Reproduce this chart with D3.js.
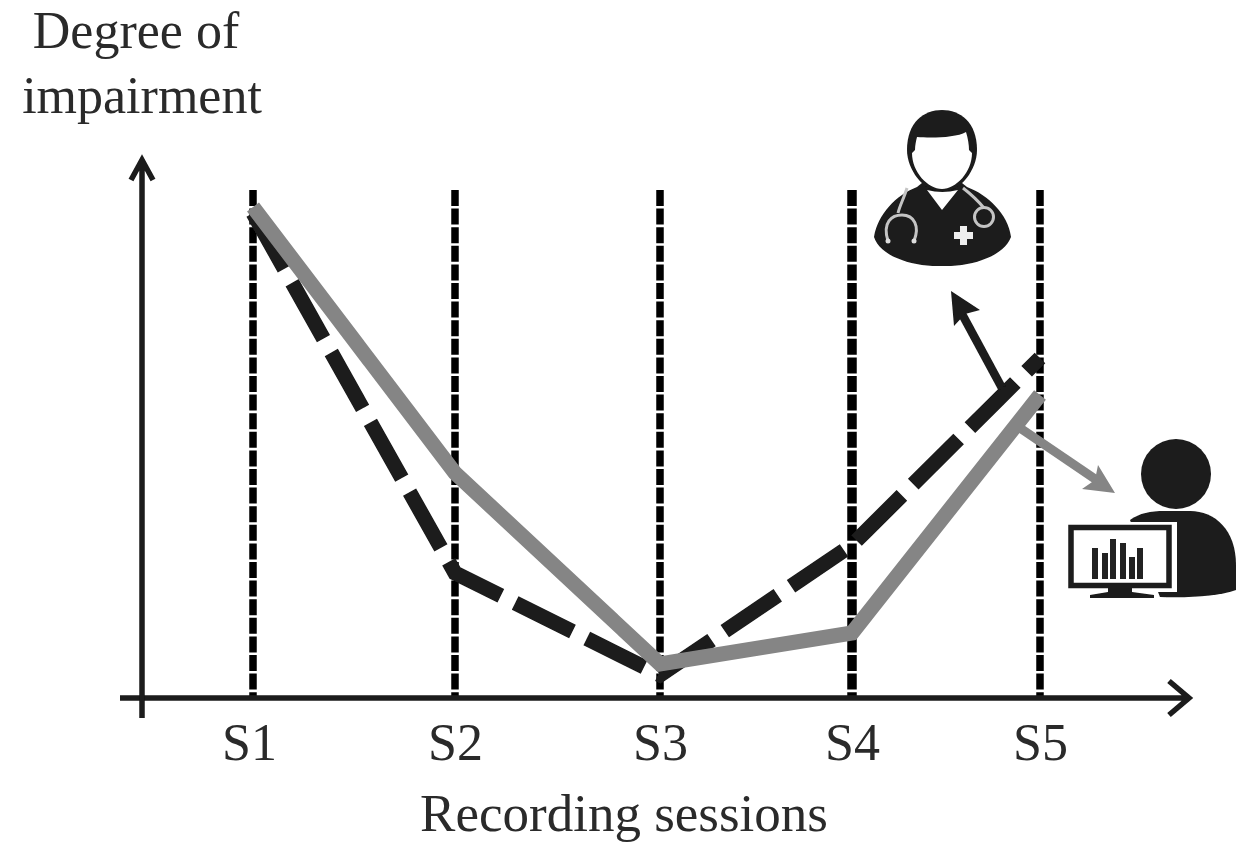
<!DOCTYPE html>
<html><head><meta charset="utf-8">
<script src="https://cdn.jsdelivr.net/npm/d3@7"></script>
<style>html,body{margin:0;background:#fff}svg{display:block}text{font-family:"Liberation Serif",serif;fill:#2a2a2a}</style>
</head><body><div id="c"></div>
<script>
const sessions=["S1","S2","S3","S4","S5"];
const clinician=[97,25,4.6,30.6,68];
const automatic=[98.2,45,6.8,13,60.6];
const yTitle=["Degree of","impairment"];
const xTitle="Recording sessions";
const W=1245,H=845;
const svg=d3.select("#c").append("svg").attr("width",W).attr("height",H);
const defs=svg.append("defs");
defs.append("filter").attr("id","soft").append("feGaussianBlur").attr("stdDeviation",0.7);
const g=svg.append("g").attr("filter","url(#soft)");
const px=d3.scaleOrdinal().domain(sessions).range([253,455,660,852,1040]);
const y=d3.scaleLinear().domain([0,100]).range([698,198]);
const dark="#1a1a1a",grey="#858585";
// guides
g.selectAll(".guide").data(sessions).join("line").attr("class","guide")
 .attr("x1",px).attr("x2",px).attr("y1",190).attr("y2",y(0))
 .attr("stroke","#000").attr("stroke-width",d=>d==="S4"?9.5:7.5).attr("stroke-dasharray","16 2.6");
// axes
const xa=d3.axisBottom(px).tickSize(0).tickPadding(25);
const xg=g.append("g").attr("transform",`translate(0,${y(0)})`).call(xa);
xg.select(".domain").remove();
xg.selectAll("text").attr("font-size",52).attr("font-family","Liberation Serif").attr("fill","#111").attr("dy","0.71em")
  .attr("dx",(d,i)=>[-4,0,0,0,0][i]);
const ax=g.append("g").attr("fill","none").attr("stroke",dark).attr("stroke-width",5.5);
ax.append("path").attr("d",`M120,${y(0)}H1188M1169,${y(0)-17}L1189,${y(0)}L1169,${y(0)+17}`);
ax.append("path").attr("d",`M142,718V160M131,180L142,160L153,180`);
// series
const line=d3.line().x((d,i)=>px(sessions[i])).y(d=>y(d));
g.append("path").attr("d",line(clinician)).attr("fill","none").attr("stroke",dark)
 .attr("stroke-width",15).attr("stroke-dasharray","64 16");
g.append("path").attr("d",line(automatic)).attr("fill","none").attr("stroke",grey)
 .attr("stroke-width",15).attr("stroke-linejoin","miter");
// callout arrows
g.append("path").attr("d","M1002,388L962,314").attr("stroke",dark).attr("stroke-width",8.5).attr("fill","none");
g.append("path").attr("d","M951,291L980,310L965,314L954,326Z").attr("fill",dark);
g.append("path").attr("d","M1020,428L1098,481").attr("stroke",grey).attr("stroke-width",9).attr("fill","none");
g.append("path").attr("d","M1115,493L1082,489L1095,480L1098,465Z").attr("fill",grey);
// doctor icon
const doc=g.append("g").attr("transform","translate(942,0)");
doc.append("path").attr("fill",dark).attr("d","M-68,237C-64,214 -46,195 -25,187L-20,183L20,183L25,187C46,195 66,214 69,237C62,256 30,267 0,266C-30,267 -62,256 -68,237Z");
doc.append("path").attr("fill",dark).attr("d","M-35,150C-35,122 -18,110 0,110C18,110 35,122 35,150C35,170 18,192 0,192C-18,192 -35,170 -35,150Z");
doc.append("path").attr("fill","#fff").attr("d","M-25,137C-12,138 14,138 24,132C26,138 27,145 27,150L30,153C30,172 14,189 0,189C-14,189 -30,172 -30,153L-27,150C-27,145 -26,141 -25,137Z");
doc.append("path").attr("fill","#fff").attr("d","M-15,190Q0,194 16,190L0,210Z");
const st=doc.append("g").attr("fill","none").attr("stroke","#c4c4c4").attr("stroke-width",3);
st.append("path").attr("d","M-35,188C-38,198 -42,205 -44,213");
st.append("path").attr("d","M-54,241C-60,222 -50,215 -40,215C-28,215 -22,226 -28,241");
st.append("path").attr("d","M21,188C30,195 37,202 42,208");
st.append("circle").attr("cx",42).attr("cy",217).attr("r",9.5);
doc.append("circle").attr("cx",-54).attr("cy",241).attr("r",2.5).attr("fill","#ddd");
doc.append("circle").attr("cx",-28).attr("cy",241).attr("r",2.5).attr("fill","#ddd");
doc.append("path").attr("fill","#eee").attr("d","M12,232h6v-6h7v6h6v7h-6v6h-7v-6h-6Z");
// person icon
const per=g.append("g");
per.append("circle").attr("cx",1176).attr("cy",474).attr("r",35).attr("fill",dark);
per.append("path").attr("fill",dark).attr("d","M1130,520C1140,513 1150,511 1165,511H1190C1215,511 1236,530 1236,565V590C1220,596 1190,598 1160,597Z");
per.append("rect").attr("x",1066).attr("y",522).attr("width",111).attr("height",70).attr("fill","#fff");
per.append("rect").attr("x",1071).attr("y",527.5).attr("width",98).attr("height",58).attr("fill","#fff").attr("stroke",dark).attr("stroke-width",5.5);
per.append("path").attr("fill",dark).attr("d","M1108,588H1132V592L1154,595V598H1090V595L1108,592Z");
const iconBars=[[1095,548],[1105,553],[1113,539],[1123,543],[1132,557],[1140,548]];
per.selectAll(".ib").data(iconBars).join("rect").attr("class","ib")
 .attr("x",d=>d[0]-3).attr("y",d=>d[1]).attr("width",6).attr("height",d=>579-d[1]).attr("fill","#222");
// text
const t=svg.append("g");
t.selectAll(".yt").data(yTitle).join("text").attr("class","yt").attr("font-size",52)
 .attr("text-anchor","middle").attr("x",(d,i)=>i?142:136).attr("y",(d,i)=>i?113:48).text(d=>d);
t.append("text").attr("font-size",53).attr("text-anchor","middle").attr("x",624).attr("y",831).text(xTitle);
</script></body></html>
